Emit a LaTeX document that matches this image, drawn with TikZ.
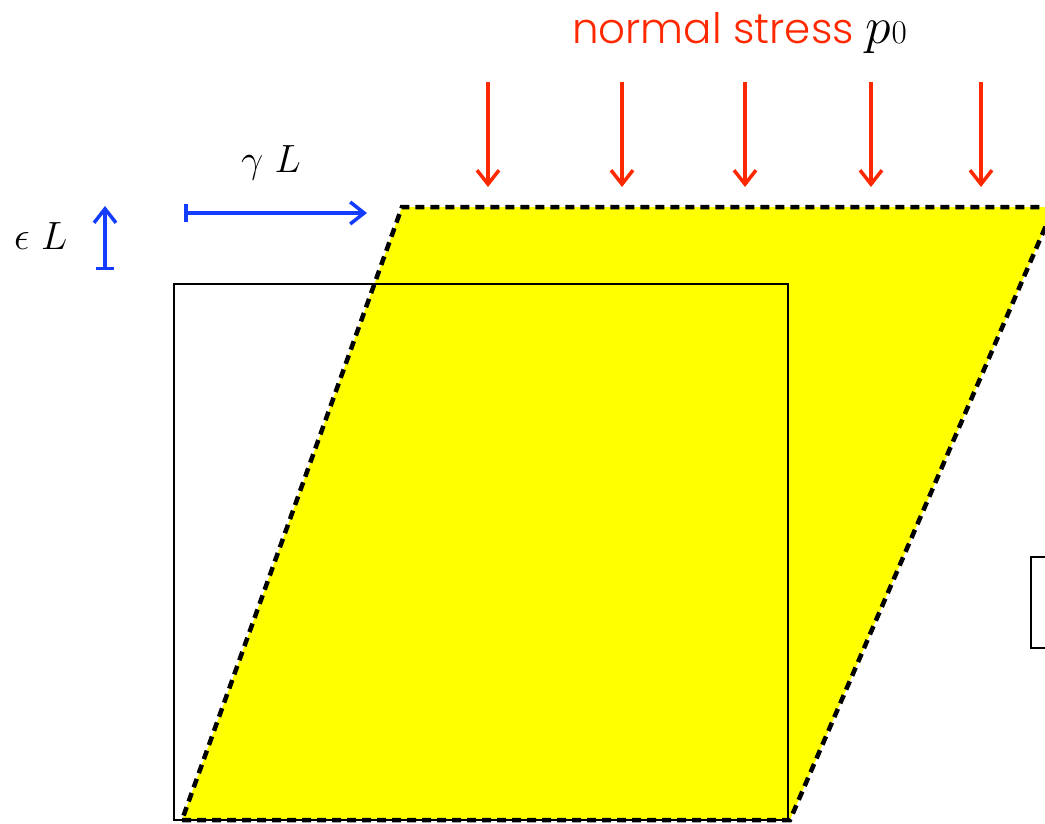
\documentclass[tikz,border=0pt]{standalone}
\usepackage{fontspec}
\usepackage{graphicx}
\newfontfamily\cgfont{Poppins Light}
\usetikzlibrary{arrows.meta}
\definecolor{stressred}{RGB}{255,40,0}
\definecolor{dimblue}{RGB}{20,60,255}
\definecolor{fillyellow}{RGB}{255,255,0}
\tikzset{
  loadarrow/.style={draw=stressred, line width=3.5pt, -{Straight Barb[length=14pt,width=22pt,line width=3.5pt]}},
  dimarrow/.style={draw=dimblue, line width=3.5pt, {Bar[width=18pt,line width=3.5pt]}-{Straight Barb[length=14pt,width=22pt,line width=3.5pt]}},
  deformed/.style={draw=black, line width=4.5pt, dash pattern=on 9pt off 6pt},
  refbox/.style={draw=black, line width=1.8pt},
  mathlabel/.style={inner sep=0pt, font=\fontsize{20}{24}\selectfont},
}
\begin{document}
\begin{tikzpicture}[x=1pt,y=-1pt]
\useasboundingbox (0,0) rectangle (1045,823);
\begin{scope}
\clip (0,0) rectangle (1045,823);
% deformed parallelogram
\coordinate (pbl) at (182,820);
\coordinate (pbr) at (790,820);
\coordinate (ptr) at (1054,207);
\coordinate (ptl) at (402,207);
\fill[fillyellow] (pbl) -- (pbr) -- (ptr) -- (ptl) -- cycle;
% reference square
\draw[refbox] (174,284) rectangle (788,820);
\draw[deformed] (pbl) -- (pbr) -- (ptr) -- (ptl) -- cycle;
% partial box at right
\draw[refbox] (1060,557) -- (1031,557) -- (1031,648) -- (1060,648);
\end{scope}
% load arrows
\foreach \x/\n in {488/a,622/b,745/c,871/d,981/e}{
  \coordinate (ls\n) at (\x,82);
  \coordinate (le\n) at (\x,187);
  \draw[loadarrow] (ls\n) -- (le\n);
}
\node[anchor=base west, inner sep=0pt, font=\fontsize{42}{48}\selectfont] (title) at (572,43)
  {\textcolor{stressred}{\cgfont normal stress}};
\node[mathlabel, anchor=base west] (pzero) at (865,43)
  {\scalebox{2.5}{$p$}\kern1pt\scalebox{1.6}{$0$}};
% shear displacement
\coordinate (gs) at (184,213);
\coordinate (ge) at (367,213);
\draw[dimarrow] (gs) -- (ge);
\node[mathlabel, anchor=base] (glabel) at (271,172) {\scalebox{1.9}{$\gamma\ L$}};
% normal displacement
\coordinate (es) at (105,270);
\coordinate (ee) at (105,206);
\draw[dimarrow] (es) -- (ee);
\node[mathlabel, anchor=base west] (elabel) at (14,249) {\scalebox{1.9}{$\epsilon\ L$}};
\end{tikzpicture}
\end{document}
